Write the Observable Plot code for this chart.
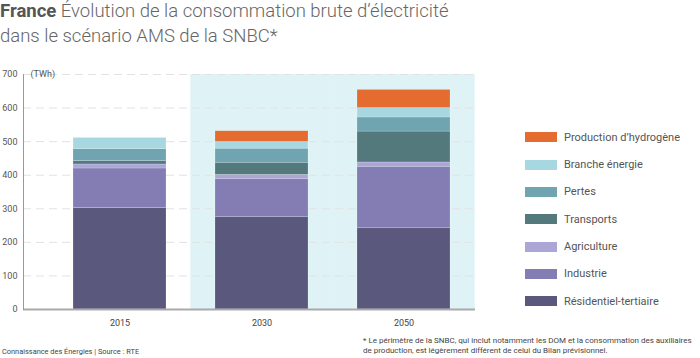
<!DOCTYPE html>
<html><head><meta charset="utf-8">
<script src="https://cdn.jsdelivr.net/npm/d3@7"></script>
<script src="https://cdn.jsdelivr.net/npm/@observablehq/plot@0.6"></script>
<style>
body{margin:0;background:#fff;font-family:Roboto,"Noto Sans",sans-serif}
#wrap{position:relative;width:700px;height:358px;overflow:hidden}
#chart{position:absolute;left:0;top:0}
#title{position:absolute;left:0;top:-1px;font-size:18.5px;line-height:25px;color:#666;font-weight:300;white-space:nowrap}
#title b{font-weight:700;color:#555}
.leg{position:absolute;left:525px;height:14px;display:flex;align-items:center;font-size:11px;color:#555;white-space:nowrap}
.leg i{display:inline-block;width:32px;height:10px;margin-right:7px}
#src{position:absolute;left:2px;top:347px;font-size:7.4px;color:#444;white-space:nowrap}
#note{position:absolute;left:363px;top:336px;font-size:8px;line-height:10px;color:#444;white-space:nowrap}
</style></head>
<body>
<div id="wrap">
<div id="chart"></div>
<div id="title"><b>France</b> Évolution de la consommation brute d’électricité<br>dans le scénario AMS de la SNBC*</div>
<div id="legend"></div>
<div id="src">Connaissance des Énergies | Source : RTE</div>
<div id="note">* Le périmètre de la SNBC, qui inclut notamment les DOM et la consommation des auxiliaires<br>de production, est légèrement différent de celui du Bilan prévisionnel.</div>
</div>
<script>
const years = ["2015", "2030", "2050"];
const series = ["Résidentiel-tertiaire", "Industrie", "Agriculture", "Transports", "Pertes", "Branche énergie", "Production d’hydrogène"];
const colors = ["#5b587e", "#837db4", "#aba6d6", "#54797d", "#6fa4b0", "#a7d8e2", "#e46c30"];
const residentiel = [302, 275, 242];
const industrie = [118, 114, 183];
const agriculture = [12, 12, 13];
const transports = [10, 36, 92];
const pertes = [36, 42, 42];
const branche = [33, 20, 28];
const hydrogene = [0, 32, 54];
const yTicks = [0, 100, 200, 300, 400, 500, 600, 700];
const scenarioYears = ["2030", "2050"];

const values = [residentiel, industrie, agriculture, transports, pertes, branche, hydrogene];
const rows = [];
series.forEach((s, i) => years.forEach((y, j) => { if (values[i][j] > 0) rows.push({series: s, year: y, value: values[i][j]}); }));

const chart = Plot.plot({
  width: 700, height: 358,
  marginTop: 74, marginBottom: 49, marginLeft: 23, marginRight: 225,
  style: {fontFamily: "Roboto, sans-serif", fontSize: "9px", color: "#555", background: "transparent"},
  x: {domain: years, range: [47, 475], paddingInner: 0.347, paddingOuter: 0.1735, label: null},
  y: {domain: [0, 700], label: null},
  color: {domain: series, range: colors},
  marks: [
    Plot.barY(scenarioYears, {x: d => d, y1: 0, y2: 700, fill: "#dff3f6", insetLeft: -24.7, insetRight: -24.7}),
    Plot.ruleY(yTicks.slice(1), {stroke: "#e2e2e2", strokeDasharray: "8,5"}),
    Plot.barY(rows, {x: "year", y: "value", fill: "series", order: series, stroke: "#fff", strokeOpacity: 0.3, strokeWidth: 0.6}),
    Plot.axisX({tickSize: 0, tickPadding: 10, label: null, fill: "#444"}),
    Plot.axisY({ticks: yTicks, tickSize: 0, tickPadding: 6, label: null, fill: "#555"}),
    Plot.ruleY([0], {stroke: "#aaa", strokeWidth: 2}),
    Plot.frame({anchor: "left", stroke: "#999"}),
    Plot.text(["(TWh)"], {frameAnchor: "top-left", dx: 7, lineAnchor: "middle", textAnchor: "start", fontSize: 9, fill: "#555"})
  ]
});
document.getElementById("chart").appendChild(chart);

const legend = document.getElementById("legend");
const legOrder = series.slice().reverse();
legOrder.forEach((s, k) => {
  const d = document.createElement("div");
  d.className = "leg";
  d.style.top = (130.3 + k * 27.3) + "px";
  const c = colors[series.indexOf(s)];
  d.innerHTML = `<i style="background:${c}"></i>${s}`;
  legend.appendChild(d);
});
</script>
</body></html>
